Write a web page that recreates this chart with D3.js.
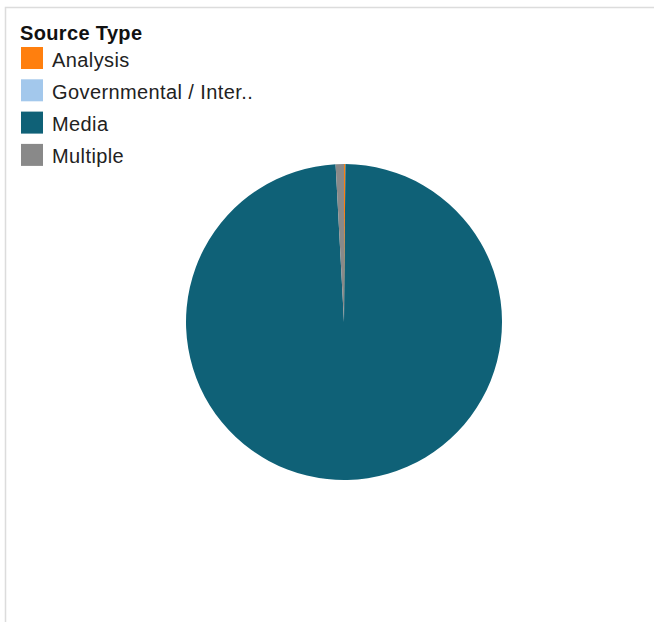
<!DOCTYPE html>
<html><head><meta charset="utf-8">
<script src="https://cdn.jsdelivr.net/npm/d3@7"></script>
<style>body{margin:0;background:#fff;} svg{display:block;}</style>
</head><body>
<svg id="c" width="654" height="622"></svg>
<script>
const categories = ["Analysis", "Governmental / Inter..", "Media", "Multiple"];
const values = [1, 0, 700, 6];
const colors = ["#ff7f0e", "#a3c8ec", "#0f6177", "#898989"];
const legendTitle = "Source Type";

const svg = d3.select("#c");
// frame
svg.append("path").attr("d", "M5.5,622 V7.5 H654").attr("fill", "none").attr("stroke", "#dcdcdc").attr("stroke-width", 1.5);

const cx = 344, cy = 322, r = 158;
const pie = d3.pie().sort(null).value(d => d.v);
const data = categories.map((c, i) => ({c, v: values[i], col: colors[i]}));
const arc = d3.arc().innerRadius(0).outerRadius(r);
svg.append("g").attr("transform", `translate(${cx},${cy})`)
  .selectAll("path").data(pie(data)).join("path")
  .attr("d", arc).attr("fill", d => d.data.col);

const lg = svg.append("g").attr("font-family", "Liberation Sans, Arial, sans-serif");
lg.append("text").attr("x", 20).attr("y", 40).attr("font-size", 20).attr("letter-spacing", 0.35).attr("font-weight", "bold").attr("fill", "#111").text(legendTitle);
const items = lg.selectAll("g.it").data(data).join("g").attr("class", "it")
  .attr("transform", (d, i) => `translate(21,${47 + i * 32.3})`);
items.append("rect").attr("width", 22).attr("height", 22).attr("fill", d => d.col);
items.append("text").attr("x", 31).attr("y", 19.5).attr("font-size", 20).attr("letter-spacing", 0.4).attr("fill", "#222").text(d => d.c);
</script>
</body></html>
